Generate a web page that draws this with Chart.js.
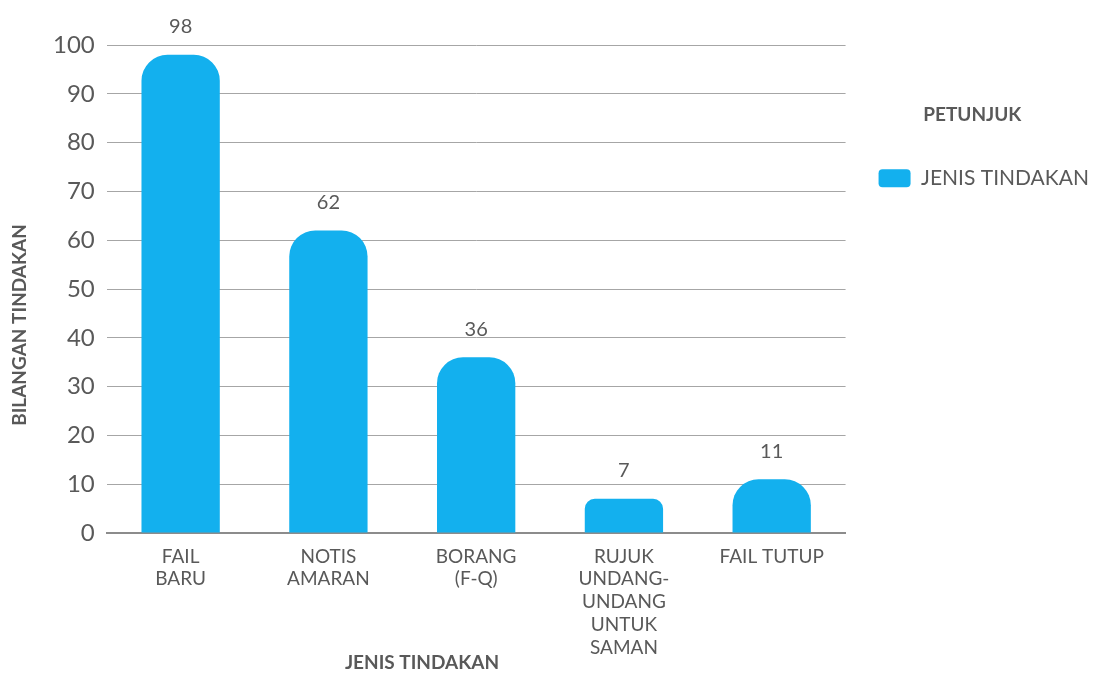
<!DOCTYPE html>
<html><head><meta charset="utf-8">
<script src="https://cdn.jsdelivr.net/npm/chart.js@4"></script>
<style>html,body{margin:0;padding:0;background:#fff}#wrap{width:1099px;height:678px;position:relative}</style>
</head><body><div id="wrap"><canvas id="c"></canvas></div>
<script>
const categories = [['FAIL','BARU'],['NOTIS','AMARAN'],['BORANG','(F-Q)'],['RUJUK','UNDANG-','UNDANG','UNTUK','SAMAN'],'FAIL TUTUP'];
const seriesName = 'JENIS TINDAKAN';
const values = [98, 62, 36, 7, 11];
const yMin = 0, yMax = 100, yStep = 10;
const xTitle = 'JENIS TINDAKAN';
const yTitle = 'BILANGAN TINDAKAN';
const legendTitle = 'PETUNJUK';

const FONT = 'Lato, "DejaVu Sans", sans-serif';
const TXT = '#595959';
const BAR = '#13b0ee';

const valueLabels = {
  id: 'valueLabels',
  afterDatasetsDraw(chart) {
    const ctx = chart.ctx;
    const meta = chart.getDatasetMeta(0);
    ctx.save();
    ctx.font = '20px ' + FONT;
    ctx.fillStyle = TXT;
    ctx.textAlign = 'center';
    ctx.textBaseline = 'bottom';
    meta.data.forEach((el, i) => {
      ctx.fillText(String(chart.data.datasets[0].data[i]), el.x, el.y - 18);
    });
    ctx.restore();
  }
};

const axisTitles = {
  id: 'axisTitles',
  afterDraw(chart) {
    const ctx = chart.ctx;
    ctx.save();
    ctx.font = 'bold 19px ' + FONT;
    ctx.fillStyle = TXT;
    ctx.textAlign = 'center';
    ctx.textBaseline = 'middle';
    ctx.fillText(xTitle, 422, 663);
    ctx.translate(20, 325);
    ctx.rotate(-Math.PI / 2);
    ctx.fillText(yTitle, 0, 0);
    ctx.restore();
  }
};

new Chart(document.getElementById('c'), {
  type: 'bar',
  data: {
    labels: categories,
    datasets: [{
      label: seriesName,
      data: values,
      backgroundColor: BAR,
      borderSkipped: 'bottom',
      borderRadius: (c) => (c.raw !== undefined && c.raw < 10 ? 10 : 26),
      barPercentage: 0.53,
      categoryPercentage: 1.0
    }]
  },
  options: {
    responsive: true,
    maintainAspectRatio: false,
    animation: false,
    layout: { padding: { top: 45, left: 41, right: 0, bottom: 7 } },
    plugins: {
      legend: {
        position: 'right',
        align: 'start',
        title: { display: true, text: legendTitle, color: TXT, font: { family: FONT, size: 19, weight: 'bold' }, padding: { top: 60, bottom: 7 } },
        labels: {
          color: TXT,
          font: { family: FONT, size: 21 },
          boxWidth: 32, boxHeight: 18,
          useBorderRadius: true, borderRadius: 4,
          padding: 33
        }
      },
      tooltip: { enabled: false }
    },
    scales: {
      x: {
        grid: { display: false, drawTicks: false },
        border: { display: true, color: '#8c8c8c', width: 2 },
        ticks: { color: TXT, font: { family: FONT, size: 19, lineHeight: 1.2 }, padding: 12, maxRotation: 0, autoSkip: false }
      },
      y: {
        min: yMin, max: yMax,
        grid: { color: '#a6a6a6', lineWidth: 1, drawTicks: false },
        border: { display: false },
        ticks: { stepSize: yStep, color: TXT, font: { family: FONT, size: 24 }, padding: 12 }
      }
    }
  },
  plugins: [valueLabels, axisTitles]
});
</script></body></html>
